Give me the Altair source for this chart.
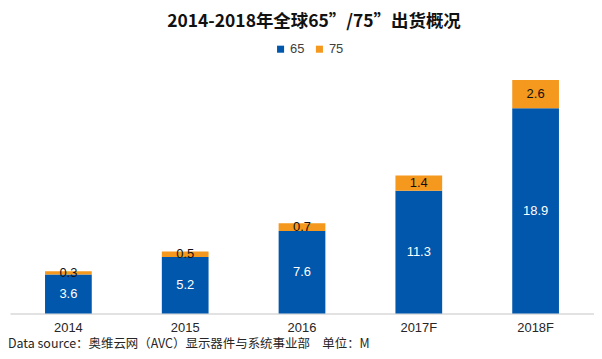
import altair as alt
import pandas as pd

years = ["2014", "2015", "2016", "2017F", "2018F"]
v65 = [3.6, 5.2, 7.6, 11.3, 18.9]
v75 = [0.3, 0.5, 0.7, 1.4, 2.6]
series = ["65", "75"]
colors = ["#0057ab", "#f4981e"]
title_text = "2014-2018年全球65”/75”出货概况"
footer_text = "Data source：奥维云网（AVC）显示器件与系统事业部　单位：M"

rows = []
for y, a, b in zip(years, v65, v75):
    rows.append({"year": y, "series": "65", "value": a})
    rows.append({"year": y, "series": "75", "value": b})
df = pd.DataFrame(rows)

W, H = 586, 248

base = alt.Chart(df).transform_stack(
    stack="value", groupby=["year"], as_=["y0", "y1"], sort=[{"field": "series", "order": "ascending"}]
).transform_calculate(mid="(datum.y0 + datum.y1) / 2")

xenc = alt.X("year:N", sort=years, title=None,
             scale=alt.Scale(paddingInner=0.6, paddingOuter=0.3),
             axis=alt.Axis(labelAngle=0, ticks=False, domainColor="#d9d9d9", domainWidth=1.5,
                           labelFont="Liberation Sans", labelFontSize=13, labelColor="#262626",
                           labelPadding=8, grid=False))
yscale = alt.Scale(domain=[0, 22.75])

bars = base.mark_bar().encode(
    x=xenc,
    y=alt.Y("y0:Q", scale=yscale, axis=None),
    y2="y1:Q",
    color=alt.Color("series:N", scale=alt.Scale(domain=series, range=colors),
                    legend=alt.Legend(title=None, orient="none", legendX=265, legendY=-24,
                                      direction="horizontal", symbolType="square", symbolSize=50,
                                      labelFont="Liberation Sans", labelFontSize=13, labelColor="#404040",
                                      padding=0, columnPadding=8, labelOffset=3, symbolStrokeWidth=0)),
)

labels = base.mark_text(font="Liberation Sans", fontSize=13, baseline="middle").encode(
    x=alt.X("year:N", sort=years),
    y=alt.Y("mid:Q", scale=yscale),
    text=alt.Text("value:Q", format=".1f"),
    color=alt.condition(alt.datum.series == "65", alt.value("white"), alt.value("#111111")),
)

footer = alt.Chart(pd.DataFrame({"t": [footer_text]})).mark_text(
    align="left", baseline="middle", font="Noto Sans CJK SC", fontSize=12.5, color="#262626"
).encode(x=alt.value(-2), y=alt.value(H + 31), text="t:N")

chart = alt.layer(bars, labels, footer).properties(
    width=W, height=H,
    title=alt.TitleParams(title_text, font="Noto Sans CJK SC", fontSize=17.5, fontWeight="bold",
                          color="#111111", anchor="middle", dx=12, offset=12),
    autosize=alt.AutoSizeParams(type="none"),
    padding={"left": 2, "top": 58, "right": 0, "bottom": 37},
).configure_view(stroke=None)

chart.save("out.html", embed_options={"renderer": "svg", "actions": False})
